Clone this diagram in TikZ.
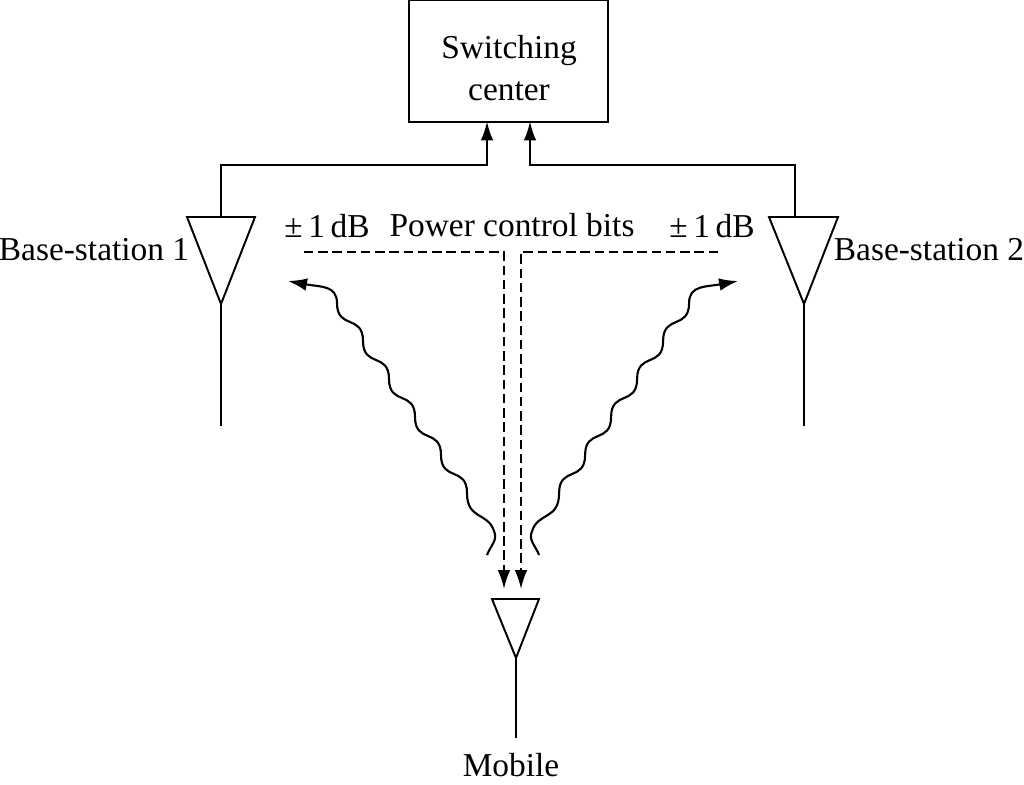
\documentclass[tikz,border=0pt]{standalone}
\usepackage{fontspec}
\setmainfont{Liberation Serif}
\usetikzlibrary{arrows.meta}
\tikzset{>={Latex[length=5.4pt,width=3.6pt]},
         line/.style = {line width=0.55pt},
         dash line/.style = {line, dash pattern=on 2.7pt off 1.35pt},
         wave/.style = {line width=0.6pt},
         label text/.style = {font=\fontsize{9.5}{11.9}\selectfont, inner sep=0pt}}

\begin{document}
\begin{tikzpicture}[x=0.01cm, y=-0.01cm]
    \useasboundingbox (0, 0) rectangle (1024, 784);

    \node [line, draw, minimum width=1.99cm, minimum height=1.22cm] (center) at (508.5, 61) {};
    \node [label text, align=center] (name) at (509, 68) {Switching\\center};

    \coordinate (bsa) at (221, 217);
    \coordinate (bsb) at (795, 217);
    \coordinate (intoa) at (487, 121.5);
    \coordinate (intob) at (530, 121.5);
    \draw [line, ->] (bsa) -- (221, 165) -- (487, 165) -- (intoa);
    \draw [line, ->] (bsb) -- (795, 165) -- (530, 165) -- (intob);

    \draw [line] (187, 217) -- (255, 217) -- (221, 304) -- cycle;
    \draw [line] (221, 304) -- (221, 426);
    \draw [line] (769, 217) -- (838, 217) -- (804, 304) -- cycle;
    \draw [line] (804, 304) -- (804, 426);
    \draw [line] (492, 599) -- (539, 599) -- (516, 658) -- cycle;
    \draw [line] (516, 658) -- (516, 738);

    \node [label text] (basea) at (94, 250) {Base-station 1};
    \node [label text] (baseb) at (929, 250) {Base-station 2};
    \node [label text] (mobile) at (511, 765) {Mobile};
    \node [label text] (bits) at (512, 225) {Power control bits};
    \node [label text] (stepa) at (327, 226) {±\,1\,dB};
    \node [label text] (stepb) at (712, 226) {±\,1\,dB};

    \draw [dash line, ->] (304, 252) -- (504, 252) -- (504, 589);
    \draw [dash line, ->] (718, 252) -- (521, 252) -- (521, 589);

    \foreach \side/\off in {1/0, -1/10.255} {
      \draw [wave, ->, xshift=\off cm, xscale=\side] (487, 555)
        .. controls (491, 545) and (498, 540) .. (494, 531)
        .. controls (488, 512) and (467, 520) .. (467, 493)
        .. controls (467, 466) and (441, 482) .. (441, 455)
        .. controls (441, 428) and (415, 444) .. (415, 417)
        .. controls (415, 390) and (389, 406) .. (389, 379)
        .. controls (389, 352) and (363, 368) .. (363, 341)
        .. controls (363, 314) and (337, 330) .. (337, 303)
        .. controls (337, 285) and (320, 287) .. (288, 281);
    }
  \end{tikzpicture}
\end{document}
